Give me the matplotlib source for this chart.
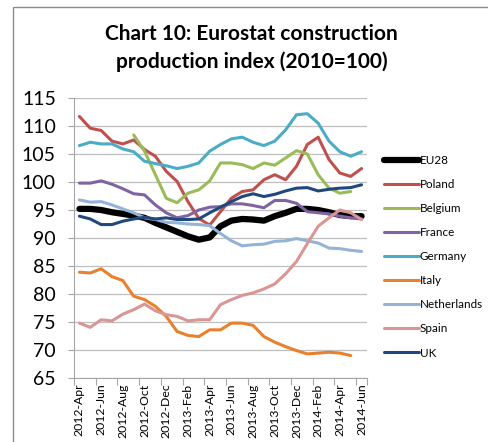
import numpy as np
import matplotlib
matplotlib.use("Agg")
import matplotlib.pyplot as plt
from matplotlib.patches import Rectangle

plt.rcParams["font.family"] = ["Lato", "DejaVu Sans"]

# Monthly categories, 2012-Apr .. 2014-Jun
months = ["2012-Apr", "2012-May", "2012-Jun", "2012-Jul", "2012-Aug", "2012-Sep",
          "2012-Oct", "2012-Nov", "2012-Dec", "2013-Jan", "2013-Feb", "2013-Mar",
          "2013-Apr", "2013-May", "2013-Jun", "2013-Jul", "2013-Aug", "2013-Sep",
          "2013-Oct", "2013-Nov", "2013-Dec", "2014-Jan", "2014-Feb", "2014-Mar",
          "2014-Apr", "2014-May", "2014-Jun"]

nan = np.nan
eu28 = [95.2, 95.2, 95.0, 94.6, 94.3, 94.0, 93.6, 92.7, 91.9, 91.1, 90.3, 89.7, 90.1, 92.1,
        93.1, 93.4, 93.3, 93.1, 93.9, 94.5, 95.2, 95.2, 95.0, 94.6, 94.1, 93.9, 93.9]
poland = [111.7, 109.6, 109.2, 107.3, 106.8, 107.5, 105.8, 104.6, 101.9, 100.1, 96.5, 93.5,
          92.3, 94.7, 97.1, 98.3, 98.6, 100.4, 101.3, 100.4, 102.8, 106.7, 108.0, 104.0,
          101.6, 101.0, 102.4]
belgium = [nan, nan, nan, nan, nan, 108.4, 105.5, 101.3, 97.1, 96.3, 98.0, 98.6, 100.2,
           103.4, 103.4, 103.1, 102.4, 103.4, 103.0, 104.3, 105.6, 105.0, 101.3, 98.9, 98.0,
           98.3, nan]
france = [99.8, 99.8, 100.2, 99.6, 98.8, 97.9, 97.7, 95.9, 94.5, 93.6, 94.0, 95.0, 95.5,
          95.6, 96.1, 96.1, 95.8, 95.4, 96.7, 96.7, 96.2, 94.7, 94.5, 94.3, 93.9, 93.6, 93.4]
germany = [106.5, 107.1, 106.8, 106.8, 105.9, 105.4, 103.7, 103.3, 102.9, 102.4, 102.8,
           103.4, 105.5, 106.7, 107.7, 108.0, 107.1, 106.5, 107.3, 109.3, 112.0, 112.2,
           110.5, 107.3, 105.4, 104.6, 105.4]
italy = [83.9, 83.75, 84.5, 83.1, 82.4, 79.6, 79.0, 77.8, 76.0, 73.3, 72.6, 72.4, 73.6,
         73.6, 74.8, 74.8, 74.4, 72.4, 71.4, 70.6, 69.9, 69.3, 69.45, 69.6, 69.45, 69.0, nan]
netherlands = [96.8, 96.4, 96.5, 95.9, 95.2, 94.5, 93.6, 93.3, 92.8, 92.7, 92.5, 92.4, 92.2,
               90.8, 89.5, 88.6, 88.8, 88.9, 89.4, 89.5, 89.9, 89.5, 89.1, 88.2, 88.1, 87.8,
               87.6]
spain = [74.8, 74.05, 75.4, 75.2, 76.4, 77.2, 78.2, 77.0, 76.3, 76.0, 75.2, 75.4, 75.4, 78.1,
         79.0, 79.75, 80.2, 80.9, 81.8, 83.6, 85.8, 89.0, 92.1, 93.6, 95.0, 94.5, 93.3]
uk = [93.9, 93.4, 92.4, 92.4, 93.0, 93.4, 93.7, 93.4, 93.6, 93.3, 93.3, 93.4, 94.5, 95.5,
      96.5, 97.4, 97.9, 97.4, 97.8, 98.4, 98.9, 99.0, 98.4, 98.7, 98.9, 99.0, 99.5]

series = [
    ("EU28", eu28, "#000000", 4.5),
    ("Poland", poland, "#C0504D", 2.2),
    ("Belgium", belgium, "#9BBB59", 2.2),
    ("France", france, "#8064A2", 2.2),
    ("Germany", germany, "#4BACC6", 2.2),
    ("Italy", italy, "#E8802E", 2.2),
    ("Netherlands", netherlands, "#95B3D7", 2.2),
    ("Spain", spain, "#D99694", 2.2),
    ("UK", uk, "#1F497D", 2.2),
]

fig = plt.figure(figsize=(4.88, 4.42), dpi=100)
fig.patches.append(Rectangle((13 / 488, -0.05), 1.0, 1.05 - 7 / 442, transform=fig.transFigure,
                             fill=False, edgecolor="#8c8c8c", linewidth=1.0))
ax = fig.add_axes([74 / 488, 1 - 378 / 442, 293 / 488, 280 / 442])

x = np.arange(len(months))
for name, vals, color, lw in series:
    ax.plot(x, vals, color=color, lw=lw, label=name, solid_capstyle="round",
            solid_joinstyle="round")

ax.set_xlim(-0.5, len(months) - 0.5)
ax.set_ylim(65, 115)
ax.set_yticks(np.arange(65, 116, 5))
ax.tick_params(axis="y", labelsize=14, length=4, color="#a6a6a6", pad=9)
ax.grid(axis="y", color="#bfbfbf", lw=0.9)
ax.set_axisbelow(True)

# tick marks between category pairs, labels on every second month
ax.set_xticks(list(np.arange(-0.5, len(months) - 1, 2)) + [len(months) - 0.5])
ax.set_xticklabels([])
ax.set_xticks(x[::2], minor=True)
ax.set_xticklabels(months[::2], minor=True, rotation=90, fontsize=8.8)
ax.tick_params(axis="x", which="major", length=5, color="#a6a6a6")
ax.tick_params(axis="x", which="minor", length=0, pad=4)

for s in ["top", "right"]:
    ax.spines[s].set_visible(False)
for s in ["left", "bottom"]:
    ax.spines[s].set_color("#a6a6a6")

fig.text(0.515, 1 - 48 / 442, "Chart 10: Eurostat construction\nproduction index (2010=100)",
         ha="center", va="center", fontsize=15, fontweight="bold", linespacing=1.45)

ax.legend(loc="upper left", bbox_to_anchor=(384 / 488, 1 - 155 / 442),
          bbox_transform=fig.transFigure, frameon=False, fontsize=8.4,
          handlelength=3.0, handletextpad=0.05, labelspacing=1.12, borderaxespad=0,
          borderpad=0)

fig.savefig("out.png", dpi=100)
